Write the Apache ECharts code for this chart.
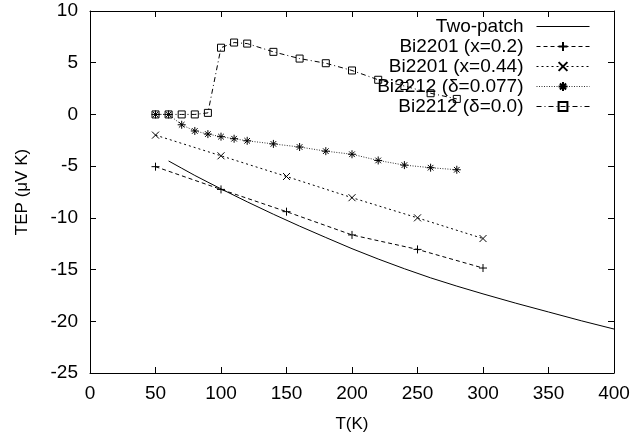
<!DOCTYPE html>
<html><head><meta charset="utf-8">
<script src="https://cdn.jsdelivr.net/npm/echarts@6/dist/echarts.min.js"></script>
<style>html,body{margin:0;padding:0;background:#fff}#c{width:642px;height:438px}</style>
</head><body><div id="c"></div>
<script>
const seriesNames = ['Two-patch', 'Bi2201 (x=0.2)', 'Bi2201 (x=0.44)', 'Bi2212 (δ=0.077)', 'Bi2212 (δ=0.0)'];
const twoPatchT = [60, 70, 80, 90, 100, 120, 140, 160, 180, 200, 220, 240, 260, 280, 300, 325, 350, 375, 400];
const twoPatchTEP = [-4.5, -5.2, -5.9, -6.55, -7.2, -8.45, -9.65, -10.8, -11.9, -12.98, -13.98, -14.92, -15.8, -16.6, -17.35, -18.25, -19.1, -19.95, -20.75];
const bi2201aT = [50, 100, 150, 200, 250, 300];
const bi2201aTEP = [-5.05, -7.25, -9.4, -11.65, -13.05, -14.85];
const bi2201bT = [50, 100, 150, 200, 250, 300];
const bi2201bTEP = [-2.0, -4.0, -6.0, -8.05, -10.0, -12.0];
const bi2212aT = [50, 60, 70, 80, 90, 100, 110, 120, 140, 160, 180, 200, 220, 240, 260, 280];
const bi2212aTEP = [0, 0, -1.0, -1.6, -1.9, -2.15, -2.35, -2.55, -2.85, -3.15, -3.55, -3.85, -4.45, -4.9, -5.15, -5.35];
const bi2212bT = [50, 60, 70, 80, 90, 100, 110, 120, 140, 160, 180, 200, 220, 240, 260, 280];
const bi2212bTEP = [0, 0, 0, 0, 0.15, 6.45, 6.95, 6.85, 6.05, 5.4, 4.95, 4.25, 3.35, 2.75, 2.05, 1.5];
const xTicks = [0, 50, 100, 150, 200, 250, 300, 350, 400];
const yTicks = [-25, -20, -15, -10, -5, 0, 5, 10];

const pair = (xs, ys) => xs.map((x, i) => [x, ys[i]]);
const FONT = 'Liberation Sans, Arial, sans-serif';
const PLUS = 'path://M0,5L10,5M5,0L5,10';
const CROSS = 'path://M0,0L10,10M10,0L0,10';
const STAR = 'path://M0,5L10,5M5,0L5,10M1.5,1.5L8.5,8.5M8.5,1.5L1.5,8.5';
const SQUARE = 'path://M0,0L10,0L10,10L0,10Z';

const markerStyle = { color: 'rgba(0,0,0,0)', borderColor: '#000', borderWidth: 1 };

function axisCommon(showLabel, pos, ticks) {
  return {
    type: 'value', position: pos,
    min: ticks[0], max: ticks[ticks.length - 1], interval: ticks[1] - ticks[0],
    axisLine: { show: true, onZero: false, lineStyle: { color: '#000', width: 1 } },
    axisTick: { show: true, inside: true, length: 6, lineStyle: { color: '#000' } },
    splitLine: { show: false },
    axisLabel: { show: showLabel, color: '#000', fontSize: 19, fontFamily: FONT }
  };
}

const chart = echarts.init(document.getElementById('c'), null, { renderer: 'canvas' });
const xMain = axisCommon(true, 'bottom', xTicks);
xMain.axisLabel.margin = 11;
xMain.name = 'T(K)';
xMain.nameLocation = 'middle';
xMain.nameGap = 43;
xMain.nameTextStyle = { color: '#000', fontSize: 17, fontFamily: FONT };
const yMain = axisCommon(true, 'left', yTicks);
yMain.axisLabel.margin = 12;
yMain.name = 'TEP (μV K)';
yMain.nameLocation = 'middle';
yMain.nameGap = 59;
yMain.nameTextStyle = { color: '#000', fontSize: 17, fontFamily: FONT };

chart.setOption({
  animation: false,
  backgroundColor: '#fff',
  grid: { left: 90, right: 28, top: 11, bottom: 59, containLabel: false },
  xAxis: [xMain, axisCommon(false, 'top', xTicks)],
  yAxis: [yMain, axisCommon(false, 'right', yTicks)],
  legend: {
    orient: 'vertical', align: 'right', right: 52, top: 17, padding: 0,
    itemWidth: 53, itemHeight: 11, itemGap: 1,
    lineStyle: { width: 1 },
    data: [
      { name: seriesNames[0], itemStyle: { opacity: 0 } },
      seriesNames[1], seriesNames[2], seriesNames[3], seriesNames[4]
    ],
    textStyle: { color: '#000', fontSize: 19, fontFamily: FONT, lineHeight: 19, padding: [0, 8, 0, 0] }
  },
  series: [
    { name: seriesNames[0], type: 'line', data: pair(twoPatchT, twoPatchTEP),
      symbol: 'none', showSymbol: false, lineStyle: { color: '#000', width: 1, type: 'solid' }, itemStyle: { color: '#000' } },
    { name: seriesNames[1], type: 'line', data: pair(bi2201aT, bi2201aTEP), symbol: PLUS, symbolSize: 8,
      lineStyle: { color: '#000', width: 1, type: [4, 3] }, itemStyle: markerStyle },
    { name: seriesNames[2], type: 'line', data: pair(bi2201bT, bi2201bTEP), symbol: CROSS, symbolSize: 7,
      lineStyle: { color: '#000', width: 1, type: [2, 3] }, itemStyle: markerStyle },
    { name: seriesNames[3], type: 'line', data: pair(bi2212aT, bi2212aTEP), symbol: STAR, symbolSize: 8,
      lineStyle: { color: '#333', width: 1, type: [1, 1.5] }, itemStyle: markerStyle },
    { name: seriesNames[4], type: 'line', data: pair(bi2212bT, bi2212bTEP), symbol: SQUARE, symbolSize: 7,
      lineStyle: { color: '#000', width: 1, type: [5, 3, 1, 3] }, itemStyle: markerStyle }
  ]
});
</script>
</body></html>
